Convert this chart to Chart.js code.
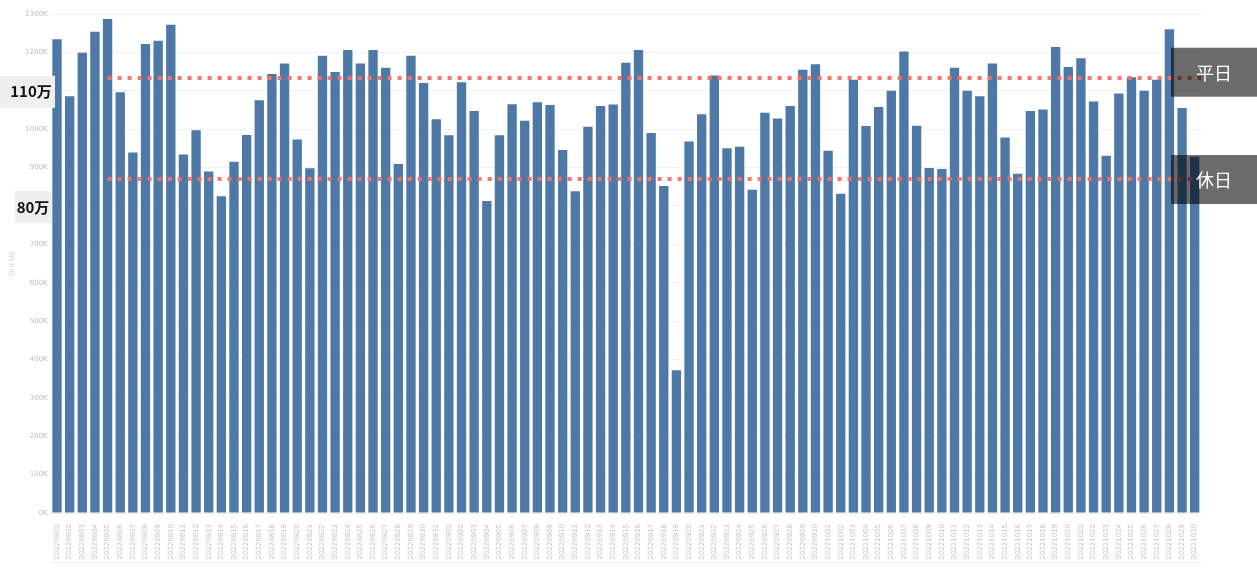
<!DOCTYPE html>
<html>
<head>
<meta charset="utf-8">
<script src="https://cdn.jsdelivr.net/npm/chart.js@4/dist/chart.umd.min.js"></script>
<style>
  html, body { margin: 0; padding: 0; background: #ffffff; }
  #wrap { position: relative; width: 1257px; height: 568px; }
</style>
</head>
<body>
<div id="wrap"><canvas id="c" width="1257" height="568"></canvas></div>
<script>
// Daily unique users, 2022-08-01 .. 2022-10-30
const startDate = new Date(2022, 7, 1);
const dayCount = 91;
const dates = [];
for (let i = 0; i < dayCount; i++) {
  const d = new Date(startDate.getTime() + i * 86400000);
  const mm = String(d.getMonth() + 1).padStart(2, '0');
  const dd = String(d.getDate()).padStart(2, '0');
  dates.push('' + d.getFullYear() + mm + dd);
}

const users = [
  1234000, 1086000, 1199000, 1254000, 1287000, 1096000, 939000, 1222000, 1230000, 1272000,
  934000, 997000, 890000, 825000, 915000, 985000, 1075000, 1144000, 1171000, 973000,
  898000, 1191000, 1149000, 1206000, 1171000, 1206000, 1160000, 909000, 1191000, 1120000,
  1026000, 984000, 1122000, 1047000, 813000, 984000, 1065000, 1022000, 1070000, 1063000,
  946000, 838000, 1006000, 1060000, 1064000, 1173000, 1206000, 990000, 852000, 372000,
  968000, 1039000, 1140000, 950000, 954000, 842000, 1043000, 1028000, 1060000, 1155000,
  1169000, 944000, 832000, 1129000, 1008000, 1058000, 1100000, 1202000, 1009000, 899000,
  896000, 1160000, 1100000, 1086000, 1171000, 978000, 884000, 1047000, 1051000, 1214000,
  1162000, 1185000, 1072000, 931000, 1093000, 1135000, 1100000, 1129000, 1260000, 1055000,
  928000
];

// Reference levels (weekday / holiday averages)
const guideValues = [1134000, 870000];
const guideLabels = ['平日', '休日'];

// Highlighted axis levels
const markerValues = [1100000, 800000];
const markerLabels = ['110万', '80万'];

const yMax = 1300000;
const yStep = 100000;

const overlays = {
  id: 'overlays',
  afterDatasetsDraw(chart) {
    const ctx = chart.ctx;
    const x = chart.scales.x, y = chart.scales.y;
    const area = chart.chartArea;

    // dotted guide lines
    ctx.save();
    ctx.strokeStyle = 'rgba(247,112,102,0.95)';
    ctx.lineWidth = 4;
    ctx.setLineDash([4, 6]);
    guideValues.forEach((v, i) => {
      const py = Math.round(y.getPixelForValue(v));
      const x0 = x.getPixelForValue(4);
      const x1 = i === 0 ? area.right : area.right - 9;
      ctx.beginPath();
      ctx.moveTo(x0, py);
      ctx.lineTo(x1, py);
      ctx.stroke();
    });
    ctx.restore();

    // gray tags on the right
    ctx.save();
    guideValues.forEach((v, i) => {
      const py = y.getPixelForValue(v);
      const top = i === 0 ? py - 30 : py - 24;
      ctx.fillStyle = 'rgba(0,0,0,0.58)';
      ctx.fillRect(1171, top, 86, 49);
      ctx.fillStyle = '#ffffff';
      ctx.font = '18px "Noto Sans CJK JP"';
      ctx.textAlign = 'center';
      ctx.textBaseline = 'middle';
      ctx.fillText(guideLabels[i], 1214, top + 25);
    });
    ctx.restore();

    // highlighted axis levels on the left
    ctx.save();
    markerValues.forEach((v, i) => {
      const py = y.getPixelForValue(v);
      const bx = i === 0 ? 0 : 15;
      ctx.fillStyle = '#efefef';
      ctx.fillRect(bx, py - 15, 55 - bx - (i === 0 ? 0 : 3), 32);
      ctx.fillStyle = '#111111';
      ctx.font = 'bold 15px "Noto Sans CJK JP"';
      ctx.textAlign = 'center';
      ctx.textBaseline = 'middle';
      ctx.fillText(markerLabels[i], i === 0 ? 31 : 33, py + 1);
    });
    ctx.restore();

    // faint baseline under the date labels
    ctx.save();
    ctx.strokeStyle = '#eeeeee';
    ctx.lineWidth = 1;
    ctx.beginPath();
    ctx.moveTo(area.left, 562.5);
    ctx.lineTo(area.right, 562.5);
    ctx.stroke();
    ctx.restore();
  }
};

new Chart(document.getElementById('c'), {
  type: 'bar',
  data: {
    labels: dates,
    datasets: [{
      label: 'Ord Uu',
      data: users,
      backgroundColor: '#4e79a7',
      borderWidth: 0,
      barPercentage: 0.74,
      categoryPercentage: 1.0
    }]
  },
  options: {
    responsive: false,
    animation: false,
    layout: { padding: { left: 0, right: 56, top: 14, bottom: 0 } },
    plugins: { legend: { display: false }, tooltip: { enabled: false } },
    scales: {
      x: {
        grid: { display: false },
        border: { display: false },
        ticks: {
          autoSkip: false,
          maxRotation: 90,
          minRotation: 90,
          padding: 3,
          color: '#c4c4c4',
          font: { family: 'DejaVu Sans', size: 7 }
        },
        afterFit(scale) { scale.height = 55; }
      },
      y: {
        min: 0,
        max: yMax,
        grid: { color: '#f1f1f1', drawTicks: false },
        border: { display: false },
        ticks: {
          stepSize: yStep,
          padding: 3,
          color: '#bdbdbd',
          font: { family: 'DejaVu Sans', size: 7 },
          callback: v => (v / 1000) + 'K'
        },
        title: {
          display: true,
          text: 'Ord Uu',
          color: '#cccccc',
          font: { family: 'DejaVu Sans', size: 7 },
          padding: { top: 8, bottom: 2 }
        },
        afterFit(scale) { scale.width = 50.7; }
      }
    }
  },
  plugins: [overlays]
});
</script>
</body>
</html>
